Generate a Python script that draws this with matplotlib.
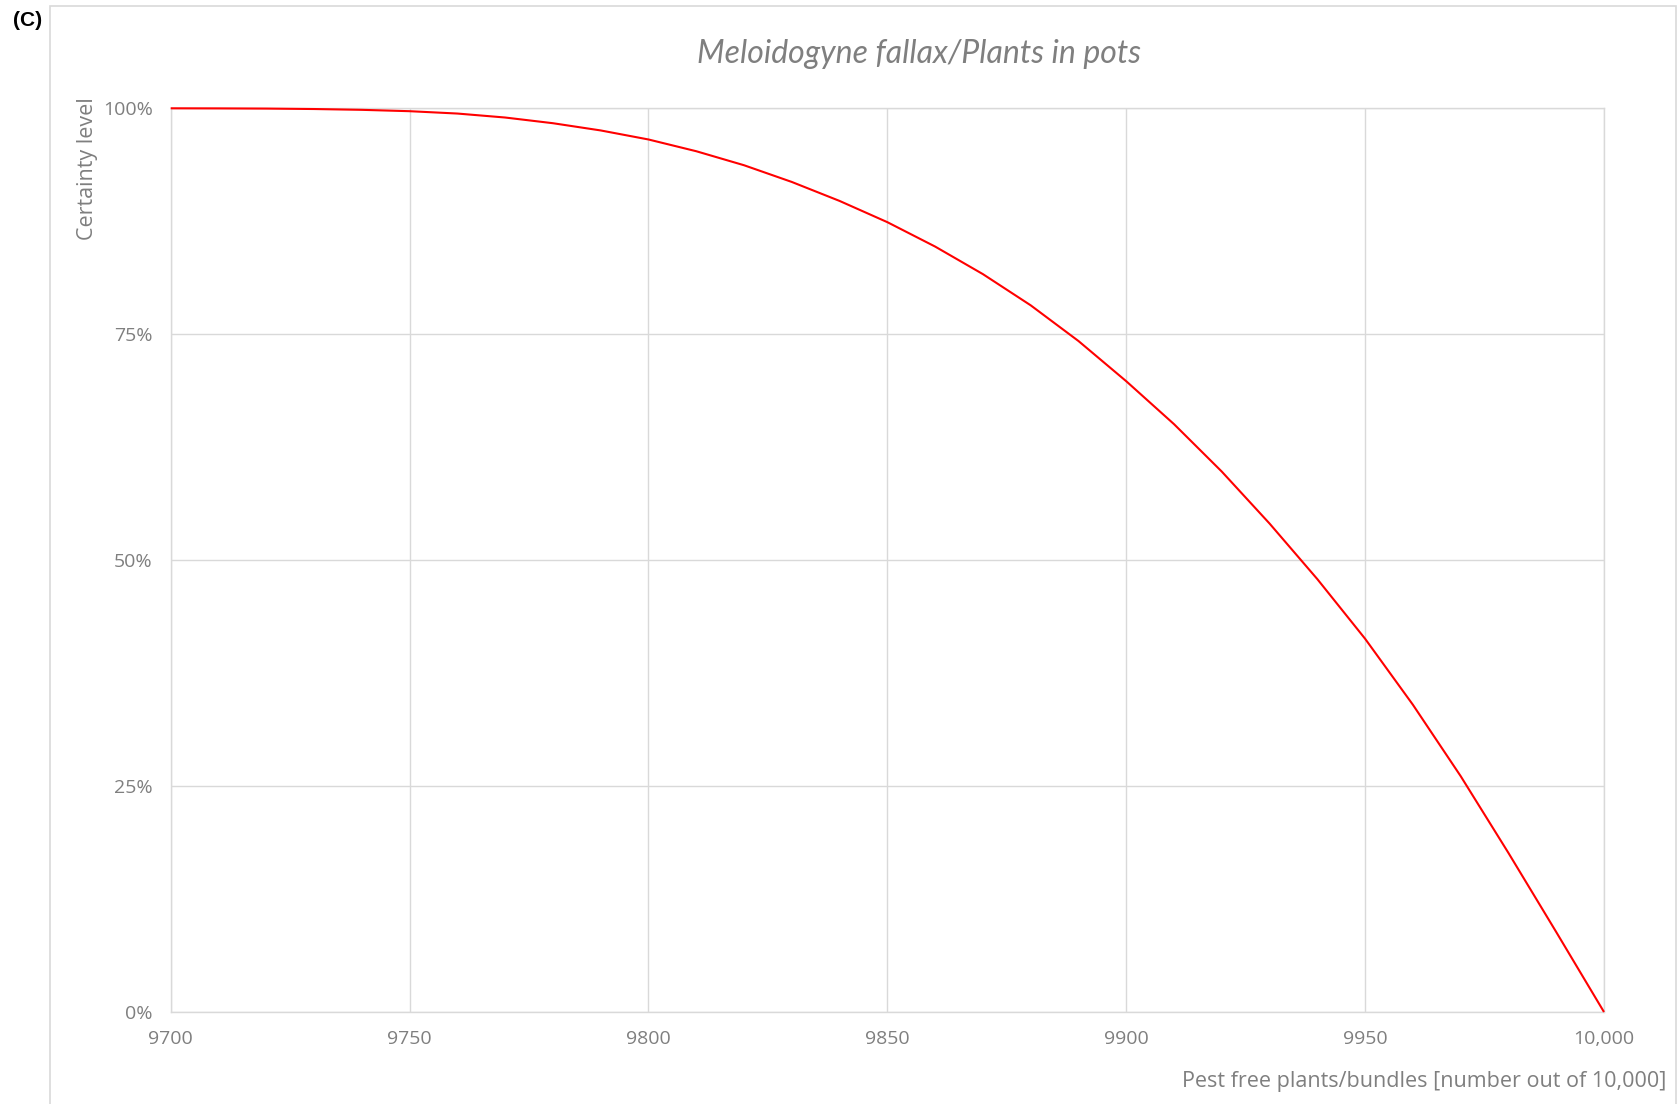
import matplotlib
matplotlib.use("Agg")
import matplotlib.pyplot as plt
from matplotlib.ticker import FuncFormatter, FixedLocator
from matplotlib.patches import Rectangle

# Data
pest_free = [9700, 9710, 9720, 9730, 9740, 9750, 9760, 9770, 9780, 9790,
             9800, 9810, 9820, 9830, 9840, 9850, 9860, 9870, 9880, 9890,
             9900, 9910, 9920, 9930, 9940, 9950, 9960, 9970, 9980, 9990, 10000]
certainty = [100.0, 99.99, 99.97, 99.92, 99.83, 99.68, 99.42, 98.98, 98.35, 97.55,
             96.55, 95.25, 93.70, 91.85, 89.75, 87.40, 84.70, 81.65, 78.20, 74.25,
             69.80, 65.05, 59.80, 54.05, 47.90, 41.30, 34.00, 26.10, 17.60, 8.85, 0.0]
x_ticks = [9700, 9750, 9800, 9850, 9900, 9950, 10000]
x_tick_labels = ["9700", "9750", "9800", "9850", "9900", "9950", "10,000"]
y_ticks = [0, 25, 50, 75, 100]

W, H = 1677, 1104
fig = plt.figure(figsize=(W / 100, H / 100), dpi=100)
fig.patch.set_facecolor("white")

grey = "#7f7f7f"
gridc = "#d9d9d9"

# outer border
fig.patches.append(Rectangle((50 / W, -0.01), (1676 - 50) / W, 1 - 6 / H + 0.01,
                             transform=fig.transFigure, fill=False,
                             edgecolor=gridc, linewidth=1.2, zorder=0))

left, right = 170.7 / W, 1604 / W
bottom, top = 1 - 1012 / H, 1 - 108.3 / H
ax = fig.add_axes([left, bottom, right - left, top - bottom])

ax.plot(pest_free, [c / 100 for c in certainty], color="#ff0000", lw=1.5,
        solid_capstyle="butt", solid_joinstyle="round", zorder=3, clip_on=False)

ax.set_xlim(9700, 10000)
ax.set_ylim(0, 1)
ax.xaxis.set_major_locator(FixedLocator(x_ticks))
ax.set_xticklabels(x_tick_labels)
ax.yaxis.set_major_locator(FixedLocator([v / 100 for v in y_ticks]))
ax.yaxis.set_major_formatter(FuncFormatter(lambda v, p: f"{v * 100:.0f}%"))

ax.grid(True, color=gridc, lw=1.0)
for s in ax.spines.values():
    s.set_color(gridc)
    s.set_linewidth(1.0)
ax.tick_params(length=0, labelsize=14, labelcolor=grey)
ax.tick_params(axis="x", pad=13)
ax.tick_params(axis="y", pad=13)
for lab in ax.get_xticklabels() + ax.get_yticklabels():
    lab.set_fontfamily("Open Sans")

fig.text(919 / W, 1 - 54 / H, "Meloidogyne fallax/Plants in pots",
         ha="center", va="center", fontsize=23, style="italic",
         family="Lato", color=grey)

fig.text(1666 / W, 1 - 1081 / H, "Pest free plants/bundles [number out of 10,000]",
         ha="right", va="center", fontsize=15.5, family="Open Sans", color=grey)

fig.text(88 / W, 1 - 97 / H, "Certainty level", rotation=90,
         ha="center", va="top", fontsize=15.5, family="Open Sans", color=grey)

fig.text(13 / W, 1 - 20 / H, "(C)", ha="left", va="center", fontsize=15,
         fontweight="bold", family="Liberation Sans", color="black")

fig.savefig("out.png", dpi=100, facecolor="white")
